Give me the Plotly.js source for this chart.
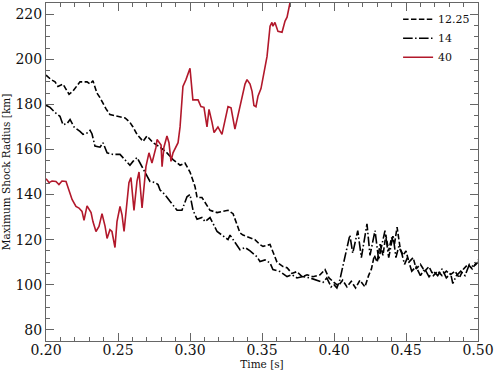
<!DOCTYPE html>
<html>
<head>
<meta charset="utf-8">
<script src="https://cdn.plot.ly/plotly-3.0.1.min.js"></script>
<style>html,body{margin:0;padding:0;background:#fff;}#chart{width:498px;height:373px;}</style>
</head>
<body>
<div id="chart"></div>
<script>
// Series names (legend labels)
const seriesNames = ["12.25", "14", "40"];

// 12.25 (dashed)
const t1225 = [0.200,0.2035,0.2063,0.2083,0.2118,0.216,0.2188,0.2236,0.2285,0.2306,0.2326,0.2354,0.2375,0.2417,0.2444,0.2514,0.2549,0.2583,0.2604,0.2632,0.2674,0.2701,0.2743,0.2792,0.284,0.2882,0.2931,0.2965,0.300,0.3035,0.3049,0.3083,0.3139,0.3188,0.3229,0.3264,0.3299,0.3326,0.3347,0.3368,0.3417,0.3451,0.3486,0.3507,0.3556,0.3576,0.3604,0.3646,0.3674,0.3708,0.3743,0.3778,0.3813,0.3854,0.3903,0.3938,0.3965,0.400,0.403,0.406,0.409,0.412,0.415,0.418,0.4215,0.424,0.426,0.428,0.430,0.432,0.434,0.436,0.438,0.440,0.442,0.4438,0.446,0.448,0.450,0.452,0.455,0.457,0.460,0.463,0.466,0.469,0.472,0.475,0.478,0.481,0.484,0.487,0.490,0.493,0.496,0.500];
const r1225 = [193,191,190,188,189,184.5,186,190,190,189,190.5,185,183,178,175.5,174.7,174,172,170,166.7,163.6,166,163,161,158.5,155.5,153,154,150,143.5,138.7,138.7,133,132,132.5,133,131.5,126.7,123,122,121,120,117.8,117,117.8,114.7,110,108,107.5,105,105.8,103.5,104.4,103.5,104.4,106.7,103,101,99.5,102,99,101.5,98.5,102,99,104,107,113,110,118,113,122,115,121,118,125.5,116,113,115,110,112,107,109,106,108,104,106,104,106,104.5,106,103,107,109,107,111];

// 14 (dash-dot)
const t14 = [0.200,0.2028,0.2063,0.2097,0.2118,0.2146,0.2167,0.2194,0.2236,0.2257,0.2292,0.2306,0.2319,0.234,0.2375,0.2396,0.2424,0.2465,0.2514,0.2549,0.2583,0.2604,0.2632,0.2653,0.2688,0.2722,0.2757,0.2778,0.2792,0.2826,0.2861,0.291,0.2944,0.2979,0.300,0.3021,0.3049,0.3083,0.3104,0.3139,0.3188,0.3229,0.3264,0.3278,0.3312,0.3347,0.3382,0.3417,0.3465,0.3486,0.3521,0.3556,0.3576,0.3625,0.3674,0.3708,0.3743,0.3785,0.3833,0.3882,0.3924,0.395,0.398,0.400,0.402,0.404,0.406,0.408,0.411,0.413,0.4165,0.419,0.4229,0.425,0.4285,0.431,0.4354,0.438,0.441,0.443,0.445,0.447,0.449,0.451,0.454,0.457,0.460,0.463,0.466,0.469,0.472,0.475,0.478,0.481,0.4825,0.485,0.488,0.491,0.494,0.497,0.500];
const r14 = [179.6,178.7,176.4,174.7,171,171.5,173.3,170,168,166.7,167.5,168.5,167,161.5,161,163,158.5,157.8,157.8,155.5,153,154.7,156.4,154,149.7,145.8,145.3,144.4,142,140,137,133,133,139,140,133,129,129.8,128,129.8,123.6,121.5,120,122,119,115.5,116.5,115,112.4,110.3,111,109.6,106.7,105.8,103.6,104.4,103,103.6,103,102,101,103,99,100,98.5,102,108,114,122,114,124,112,127,113,124,111,124,112,122,112,117,114,109,112,106,108,104,107,103.5,106,104,107,103,105,100.5,104,106,104,109,108,110];

// 40 (solid red)
const t40 = [0.200,0.2021,0.2042,0.2069,0.209,0.2111,0.2139,0.216,0.2181,0.2208,0.2229,0.225,0.2264,0.2285,0.2313,0.2326,0.2347,0.2368,0.2389,0.241,0.2424,0.2444,0.2458,0.2479,0.2493,0.2514,0.2528,0.2542,0.2556,0.2576,0.259,0.2611,0.2632,0.2646,0.2667,0.2694,0.2715,0.2736,0.2764,0.2771,0.2799,0.2806,0.2819,0.284,0.2854,0.2868,0.2882,0.2903,0.2917,0.2931,0.2944,0.2951,0.2972,0.300,0.302,0.3056,0.3076,0.3097,0.3118,0.3132,0.3153,0.3167,0.3194,0.3222,0.3264,0.3285,0.3312,0.334,0.3361,0.3382,0.3396,0.3417,0.3431,0.3444,0.3458,0.3472,0.3493,0.3514,0.3535,0.3556,0.3569,0.3576,0.359,0.3611,0.3639,0.366,0.3674,0.3694,0.3708];
const r40 = [147,145.3,146,145.8,144.4,146,145.8,142,137.8,134.7,134,132.5,128.5,135,132,128,123.6,125.8,131.5,126,120.5,124.4,123.6,116.5,128,134.7,131,123.6,133,145.3,147.5,133,146,150,134,152.4,158.5,154,161,164.4,162,152.4,161,166,163,154.7,158.5,161.3,163,170,184,188,191,196,182,182,179,178.7,170,177.8,172,167.5,170,166.7,179,178.5,169,177,183.6,189,191,189,185.8,179.5,179,183.6,187,195,201.3,214.7,216.4,214.7,216.4,212.4,212,217,218.7,225,230];

const serif = "DejaVu Serif, serif";
const axisCol = "#666";

const traces = [
  {x: t1225, y: r1225, name: seriesNames[0], mode: "lines",
   line: {color: "#000", width: 1.6, dash: "5.5px,2.4px"}},
  {x: t14, y: r14, name: seriesNames[1], mode: "lines",
   line: {color: "#000", width: 1.6, dash: "9.6px,2.4px,1.5px,2.4px"}},
  {x: t40, y: r40, name: seriesNames[2], mode: "lines",
   line: {color: "#b2182b", width: 1.6}}
];

const layout = {
  width: 498, height: 373,
  margin: {l: 46, r: 20, t: 3, b: 32},
  paper_bgcolor: "#fff", plot_bgcolor: "#fff",
  font: {family: serif, color: "#111", size: 14},
  showlegend: true,
  legend: {x: 0.815, y: 0.995, xanchor: "left", yanchor: "top",
           bgcolor: "rgba(0,0,0,0)", borderwidth: 0,
           font: {family: serif, size: 11, color: "#111"}},
  xaxis: {
    range: [0.2, 0.5], tick0: 0.2, dtick: 0.05, tickformat: ".2f",
    ticks: "inside", ticklen: 8, tickwidth: 1, tickcolor: axisCol,
    showline: true, linecolor: axisCol, linewidth: 1, mirror: "ticks",
    showgrid: false, zeroline: false, ticklabelstandoff: -4,
    tickfont: {family: serif, size: 14, color: "#111"},
    minor: {dtick: 0.01, tick0: 0.2, ticks: "inside", ticklen: 4, tickcolor: axisCol, showgrid: false},
    title: {text: "Time [s]", font: {family: serif, size: 10.5, color: "#111"}, standoff: 3}
  },
  yaxis: {
    range: [75, 225], tick0: 80, dtick: 20,
    ticks: "inside", ticklen: 8, tickwidth: 1, tickcolor: axisCol,
    showline: true, linecolor: axisCol, linewidth: 1, mirror: "ticks",
    showgrid: false, zeroline: false,
    tickfont: {family: serif, size: 14, color: "#111"},
    minor: {dtick: 5, tick0: 80, ticks: "inside", ticklen: 4, tickcolor: axisCol, showgrid: false},
    title: {text: "Maximum Shock Radius [km]", font: {family: serif, size: 10.5, color: "#111"}, standoff: 2}
  }
};

Plotly.newPlot("chart", traces, layout, {staticPlot: true, displayModeBar: false});
</script>
</body>
</html>
